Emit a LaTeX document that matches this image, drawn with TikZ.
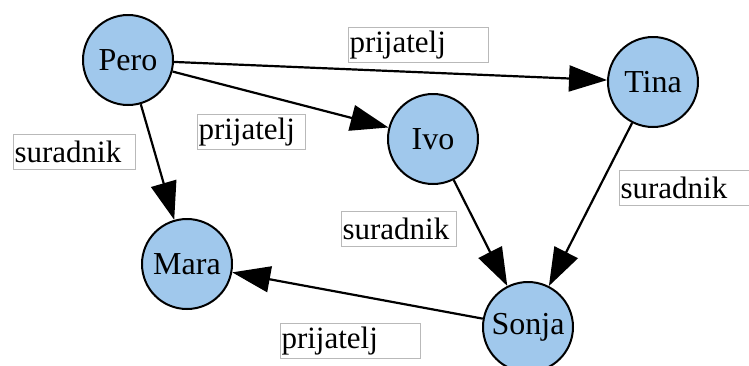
\documentclass[tikz,border=0pt]{standalone}
\usepackage{fontspec}
\setmainfont{Liberation Serif}
\usetikzlibrary{arrows.meta}

\definecolor{osobafill}{RGB}{160,200,236}

\tikzset{
	osoba/.style = {circle, draw, line width = 2pt, fill = osobafill, minimum size = 90pt, inner sep = 0pt, font = \fontsize{32}{32}\selectfont},
	veza/.style = {draw, line width = 2.2pt, -{Triangle[length = 38pt, width = 26pt]}},
	oznaka/.style = {draw = gray!55, line width = 1pt, anchor = north west, align = left, inner xsep = 1pt, inner ysep = 0pt, minimum height = 35pt, font = \fontsize{31}{31}\selectfont}
}

\begin{document}
\begin{tikzpicture}[x = 1pt, y = -1pt]
		
		\useasboundingbox (0, 0) rectangle (749, 365);
		
		\node[osoba] (pero) at (128, 60) {Pero};
		\node[osoba] (tina) at (653, 82) {Tina};
		\node[osoba] (ivo) at (433, 139) {Ivo};
		\node[osoba] (mara) at (187, 264) {Mara};
		\node[osoba] (sonja) at (528, 327) {Sonja};
		
		\draw[veza] (pero) -- (tina);
		\draw[veza] (pero) -- (ivo);
		\draw[veza] (pero) -- (mara);
		\draw[veza] (ivo) -- (sonja);
		\draw[veza] (tina) -- (sonja);
		\draw[veza] (sonja) -- (mara);
		
		\node[oznaka, text width = 138pt] (p1) at (348, 27) {prijatelj};
		\node[oznaka, text width = 120pt] (s1) at (13, 134) {suradnik};
		\node[oznaka, text width = 106pt] (p2) at (197, 114) {prijatelj};
		\node[oznaka, text width = 113pt] (s2) at (341, 211) {suradnik};
		\node[oznaka, text width = 134pt] (s3) at (619, 170) {suradnik};
		\node[oznaka, text width = 138pt] (p3) at (280, 323) {prijatelj};
	\end{tikzpicture}
\end{document}
